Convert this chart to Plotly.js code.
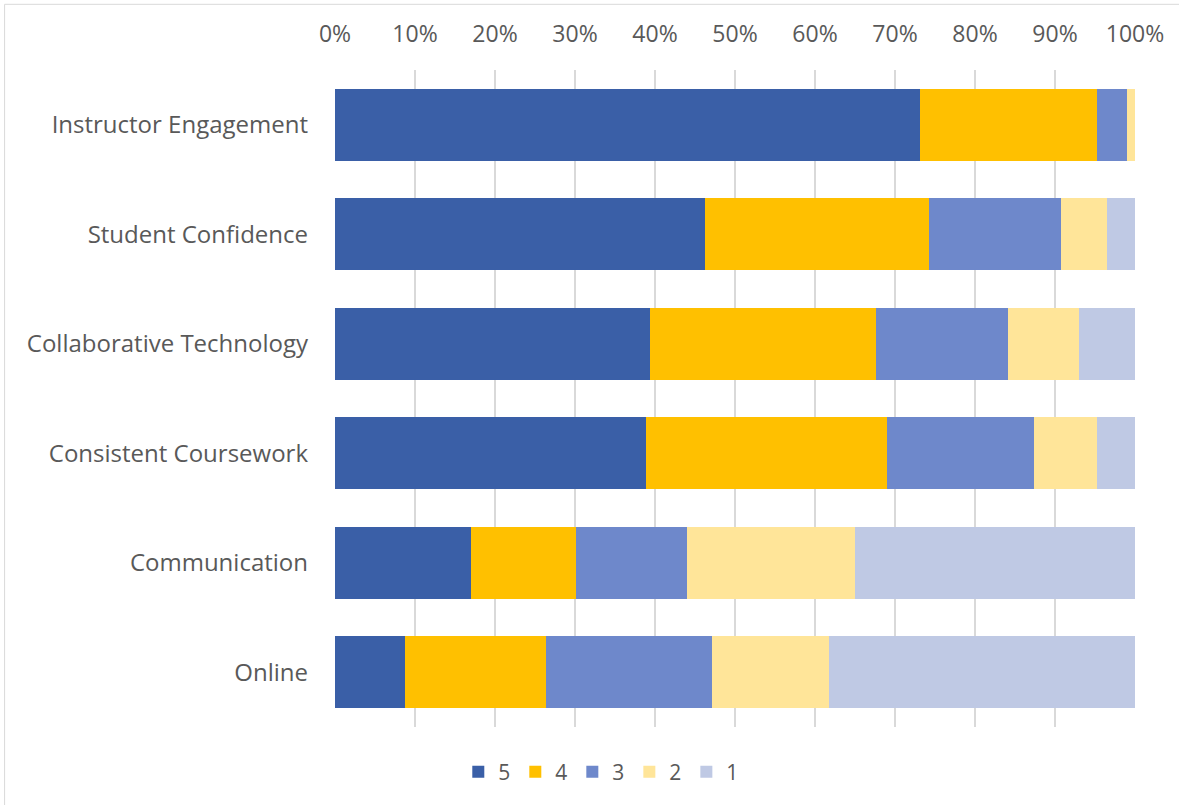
<!DOCTYPE html>
<html>
<head>
<meta charset="utf-8">
<script src="https://cdn.plot.ly/plotly-3.0.1.min.js"></script>
<style>
html, body { margin: 0; padding: 0; background: #ffffff; }
#chart { width: 1179px; height: 805px; }
</style>
</head>
<body>
<div id="chart"></div>
<script>
const categories = [
  "Instructor Engagement",
  "Student Confidence",
  "Collaborative Technology",
  "Consistent Coursework",
  "Communication",
  "Online"
];
const seriesNames = ["5", "4", "3", "2", "1"];
const rating5 = [73.1, 46.2, 39.4, 38.9, 17.0, 8.8];
const rating4 = [22.2, 28.0, 28.2, 30.1, 13.1, 17.6];
const rating3 = [3.7, 16.5, 16.5, 18.4, 13.9, 20.7];
const rating2 = [1.0, 5.8, 8.9, 7.8, 21.0, 14.7];
const rating1 = [0.0, 3.5, 7.0, 4.8, 35.0, 38.2];
const tickVals = [0, 10, 20, 30, 40, 50, 60, 70, 80, 90, 100];
const tickLabels = ["0%", "10%", "20%", "30%", "40%", "50%", "60%", "70%", "80%", "90%", "100%"];

const seriesValues = [rating5, rating4, rating3, rating2, rating1];
const colors = ["#3A5FA7", "#FFC000", "#6E88CB", "#FFE599", "#BFC9E4"];

const traces = seriesValues.map((vals, i) => ({
  type: "bar",
  orientation: "h",
  name: seriesNames[i],
  y: categories,
  x: vals,
  marker: { color: colors[i], line: { width: 0 } },
  hovertemplate: "%{y}: %{x:.1f}%<extra>" + seriesNames[i] + "</extra>"
}));

const layout = {
  width: 1179,
  height: 805,
  barmode: "stack",
  bargap: 0.343,
  paper_bgcolor: "#ffffff",
  plot_bgcolor: "#ffffff",
  font: { family: "Open Sans, sans-serif", size: 24, color: "#595959" },
  margin: { l: 335, r: 44, t: 70, b: 78 },
  xaxis: {
    side: "top",
    range: [0, 100],
    tickvals: tickVals,
    ticktext: tickLabels,
    showgrid: true,
    gridcolor: "#D9D9D9",
    gridwidth: 1.5,
    zeroline: false,
    showline: false,
    ticks: "",
    ticklabelstandoff: 22,
    tickfont: { size: 23, color: "#595959" },
    fixedrange: true
  },
  yaxis: {
    type: "category",
    autorange: "reversed",
    showgrid: false,
    zeroline: false,
    showline: false,
    ticks: "",
    ticklabelstandoff: 26,
    tickfont: { size: 24, color: "#595959" },
    fixedrange: true
  },
  showlegend: true,
  legend: {
    orientation: "h",
    traceorder: "normal",
    xref: "container",
    yref: "container",
    x: 0.51,
    xanchor: "center",
    y: 0.041,
    yanchor: "middle",
    font: { size: 21, color: "#595959" },
    itemwidth: 30
  },
  shapes: [
    { type: "line", xref: "paper", yref: "paper", x0: -0.413, x1: 1.1, y0: 1.1, y1: 1.1,
      line: { color: "#D9D9D9", width: 1 } },
    { type: "line", xref: "paper", yref: "paper", x0: -0.413, x1: -0.413, y0: 1.1, y1: -0.2,
      line: { color: "#D9D9D9", width: 1 } }
  ]
};

Plotly.newPlot("chart", traces, layout, { displayModeBar: false });
</script>
</body>
</html>
